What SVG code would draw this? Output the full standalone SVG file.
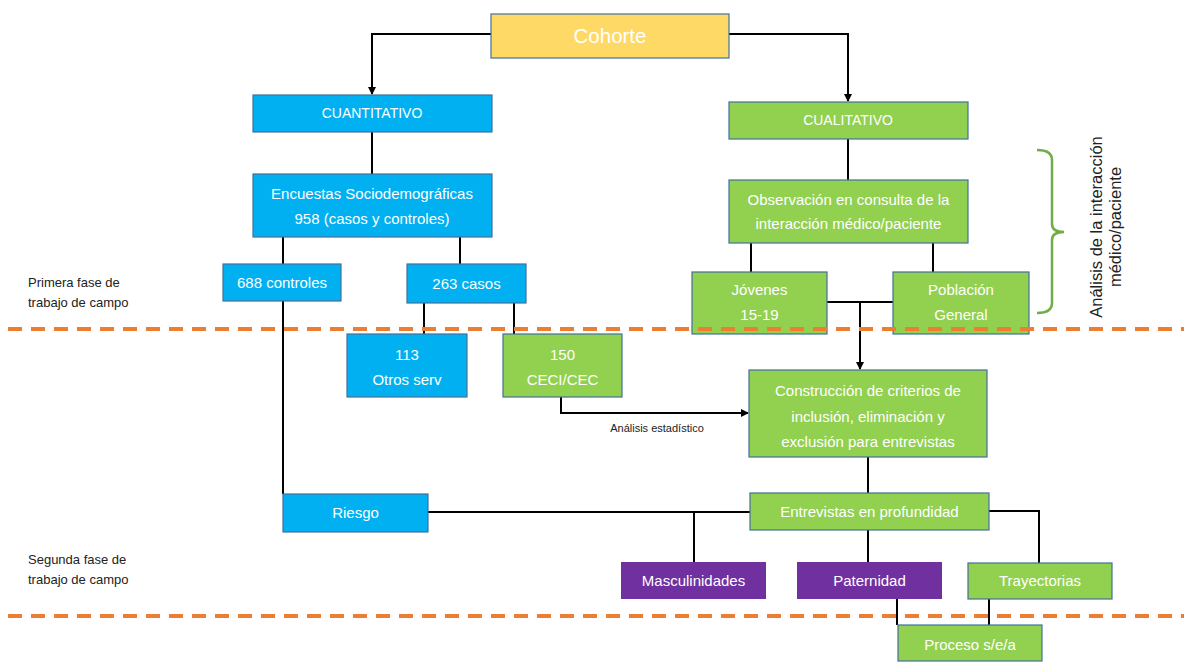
<svg xmlns="http://www.w3.org/2000/svg" width="1184" height="662" viewBox="0 0 1184 662">
<style>
.n{stroke:#41719C;stroke-width:1.2}
.b{fill:#00B0F0}
.g{fill:#92D050}
.p{fill:#7030A0}
.y{fill:#FFD966}
.t{font-family:"Liberation Sans",Arial,sans-serif;font-size:15px;fill:#fff;text-anchor:middle}
.s{font-size:14px}
.c{stroke:#000;stroke-width:2;fill:none}
.d{stroke:#ED7D31;stroke-width:4;stroke-dasharray:14 9;fill:none}
.l{font-family:"Liberation Sans",Arial,sans-serif;font-size:13px;fill:#222}
</style>
<defs>
<marker id="ah" markerWidth="8" markerHeight="8" refX="7" refY="4" orient="auto" markerUnits="userSpaceOnUse">
<path d="M0,0 L8,4 L0,8 Z" fill="#000"/>
</marker>
</defs>
<rect width="1184" height="662" fill="#fff"/>
<g id="connectors">
<path class="c" d="M491,34 H372 V94" marker-end="url(#ah)"/>
<path class="c" d="M729,34 H848 V101" marker-end="url(#ah)"/>
<path class="c" d="M372,132 V174"/>
<path class="c" d="M848,139 V180"/>
<path class="c" d="M283,237 V264"/>
<path class="c" d="M460,237 V264"/>
<path class="c" d="M424,303 V334"/>
<path class="c" d="M514,303 V334"/>
<path class="c" d="M283,301 V494"/>
<path class="c" d="M751,243 V272"/>
<path class="c" d="M933,243 V272"/>
<path class="c" d="M827,302 H893"/>
<path class="c" d="M860,302 V369" marker-end="url(#ah)"/>
<path class="c" d="M561,397 V413 H748" marker-end="url(#ah)"/>
<path class="c" d="M868,457 V493"/>
<path class="c" d="M428,512 H750"/>
<path class="c" d="M694,512 V562"/>
<path class="c" d="M868,530 V562"/>
<path class="c" d="M989,511 H1039 V563"/>
<path class="c" d="M897,599 V625"/>
<path class="c" d="M989,599 V625"/>
</g>
<g id="cohorte"><rect class="n y" x="491" y="14" width="238" height="44"/><text class="t" x="610" y="43" style="font-size:20.5px">Cohorte</text></g>
<g id="cuantitativo"><rect class="n b" x="253" y="95" width="239" height="37"/><text class="t s" x="372" y="118">CUANTITATIVO</text></g>
<g id="cualitativo"><rect class="n g" x="729" y="102" width="239" height="37"/><text class="t s" x="848" y="125">CUALITATIVO</text></g>
<g id="encuestas"><rect class="n b" x="253" y="174" width="239" height="63"/><text class="t" x="372" y="199">Encuestas Sociodemográficas</text><text class="t" x="372" y="224">958 (casos y controles)</text></g>
<g id="controles"><rect class="n b" x="223" y="264" width="118" height="37"/><text class="t" x="282" y="288">688 controles</text></g>
<g id="casos"><rect class="n b" x="407" y="264" width="119" height="39"/><text class="t" x="466.5" y="289">263 casos</text></g>
<g id="otros"><rect class="n b" x="347" y="334" width="120" height="63"/><text class="t" x="407" y="360">113</text><text class="t" x="407" y="385">Otros serv</text></g>
<g id="ceci"><rect class="n g" x="503" y="334" width="119" height="63"/><text class="t" x="562.5" y="360">150</text><text class="t" x="562.5" y="385">CECI/CEC</text></g>
<g id="observacion"><rect class="n g" x="729" y="180" width="239" height="63"/><text class="t" x="848.5" y="205">Observación en consulta de la</text><text class="t" x="848.5" y="229">interacción médico/paciente</text></g>
<g id="jovenes"><rect class="n g" x="692" y="272" width="135" height="62"/><text class="t" x="759.5" y="295">Jóvenes</text><text class="t" x="759.5" y="320">15-19</text></g>
<g id="poblacion"><rect class="n g" x="893" y="272" width="136" height="62"/><text class="t" x="961" y="295">Población</text><text class="t" x="961" y="320">General</text></g>
<g id="construccion"><rect class="n g" x="749" y="370" width="238" height="87"/><text class="t" x="868" y="396">Construcción de criterios de</text><text class="t" x="868" y="422">inclusión, eliminación y</text><text class="t" x="868" y="447">exclusión para entrevistas</text></g>
<g id="riesgo"><rect class="n b" x="283" y="494" width="145" height="38"/><text class="t" x="355.5" y="518">Riesgo</text></g>
<g id="entrevistas"><rect class="n g" x="750" y="493" width="239" height="37"/><text class="t" x="869.5" y="517">Entrevistas en profundidad</text></g>
<g id="masculinidades"><rect class="p" x="621" y="562" width="145" height="37"/><text class="t" x="693.5" y="586">Masculinidades</text></g>
<g id="paternidad"><rect class="p" x="797" y="562" width="145" height="37"/><text class="t" x="869.5" y="586">Paternidad</text></g>
<g id="trayectorias"><rect class="n g" x="968" y="563" width="144" height="36"/><text class="t" x="1040" y="586">Trayectorias</text></g>
<g id="proceso"><rect class="n g" x="898" y="625" width="144" height="36"/><text class="t" x="970" y="650">Proceso s/e/a</text></g>
<g id="labels">
<text class="l" x="28" y="287">Primera fase de</text>
<text class="l" x="28" y="307">trabajo de campo</text>
<text class="l" x="28" y="564">Segunda fase de</text>
<text class="l" x="28" y="584">trabajo de campo</text>
<text class="l" x="657" y="432" style="font-size:11px;text-anchor:middle">Análisis estadístico</text>
<text class="l" transform="translate(1102,227) rotate(-90)" style="font-size:16.5px;text-anchor:middle">Análisis de la interacción</text>
<text class="l" transform="translate(1121,227) rotate(-90)" style="font-size:16.5px;text-anchor:middle">médico/paciente</text>
</g>
<g id="brace">
<path d="M1037,150 Q1052,150 1052,160 V224 Q1052,232 1064,232 Q1052,232 1052,240 V303 Q1052,313 1037,313" fill="none" stroke="#70AD47" stroke-width="2.5"/>
</g>
<g id="phases">
<path class="d" d="M8,329 H1184"/>
<path class="d" d="M8,616 H1184"/>
</g>
</svg>
